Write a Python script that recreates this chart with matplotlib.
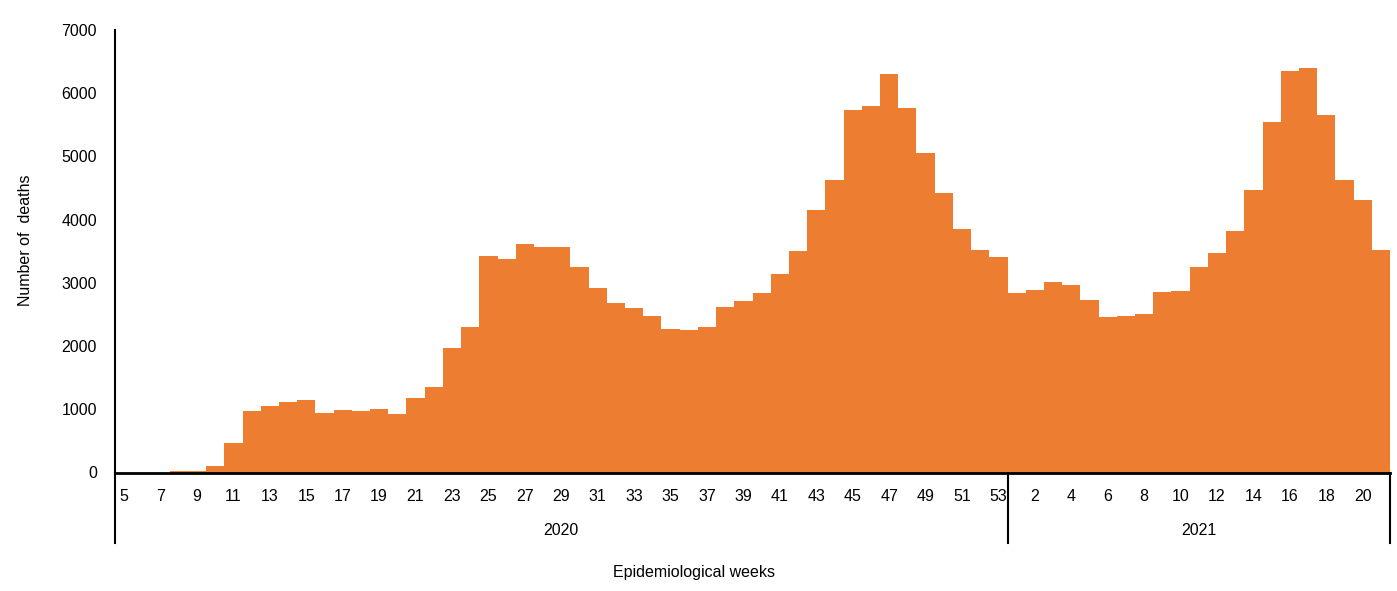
import matplotlib.pyplot as plt
import numpy as np

plt.rcParams['font.family'] = ['Liberation Sans Narrow', 'Liberation Sans', 'DejaVu Sans']

# semanas epidemiologicas y muertes por semana
semanas_2020 = list(range(5, 54))
semanas_2021 = list(range(1, 22))
muertes_2020 = [0, 0, 0, 30, 30, 100, 470, 970, 1055, 1115, 1145, 940, 987, 971, 1003, 929,
                1180, 1356, 1972, 2304, 3426, 3378, 3615, 3568, 3568, 3252, 2920, 2683, 2604,
                2478, 2273, 2257, 2304, 2620, 2715, 2841, 3141, 3504, 4147, 4626, 5727, 5790,
                6300, 5774, 5053, 4421, 3852, 3520, 3410]
muertes_2021 = [2841, 2888, 3015, 2967, 2730, 2462, 2478, 2509, 2857, 2873, 3252, 3473, 3821,
                4469, 5543, 6350, 6397, 5654, 4626, 4310, 3520]
anios = ['2020', '2021']

muertes = muertes_2020 + muertes_2021
etiquetas = [str(s) if i % 2 == 0 else '' for i, s in enumerate(semanas_2020)]
etiquetas += [str(s) if i % 2 == 1 else '' for i, s in enumerate(semanas_2021)]
x = np.arange(len(muertes))

fig = plt.figure(figsize=(13.97, 5.91), dpi=100)
ax = fig.add_axes([115/1397, 1 - 472.5/591, 1275/1397, 442.5/591])

ax.bar(x, muertes, width=1.0, color='#ED7D31', linewidth=0)
ax.set_xlim(-0.5, len(muertes) - 0.5)
ax.set_ylim(0, 7000)
ax.set_yticks(range(0, 7001, 1000))

ax.spines['top'].set_visible(False)
ax.spines['right'].set_visible(False)
ax.spines['left'].set_linewidth(1.5)
ax.spines['bottom'].set_linewidth(2)
ax.tick_params(axis='y', length=0, pad=13, labelsize=11.5)
ax.set_xticks(x)
ax.set_xticklabels(etiquetas)
ax.tick_params(axis='x', length=0, pad=12, labelsize=11.5)

# separadores de año debajo del eje
trans = ax.get_xaxis_transform()
n20 = len(semanas_2020)
for xs in [-0.5, n20 - 0.5, len(muertes) - 0.5]:
    ax.plot([xs, xs], [0, -0.159], color='black', lw=1.5, transform=trans, clip_on=False)

ax.text((n20 - 1) / 2, -0.132, anios[0], transform=trans, ha='center', va='center', fontsize=11.5)
ax.text(n20 + (len(semanas_2021) - 1) / 2, -0.132, anios[1], transform=trans, ha='center',
        va='center', fontsize=11.5)

fig.text(694/1397, 1 - 572/591, 'Epidemiological weeks', ha='center', va='center', fontsize=11.5)
fig.text(25/1397, 1 - 240/591, 'Number of  deaths', ha='center', va='center', rotation=90,
         fontsize=11.5)

plt.savefig('out.png')
